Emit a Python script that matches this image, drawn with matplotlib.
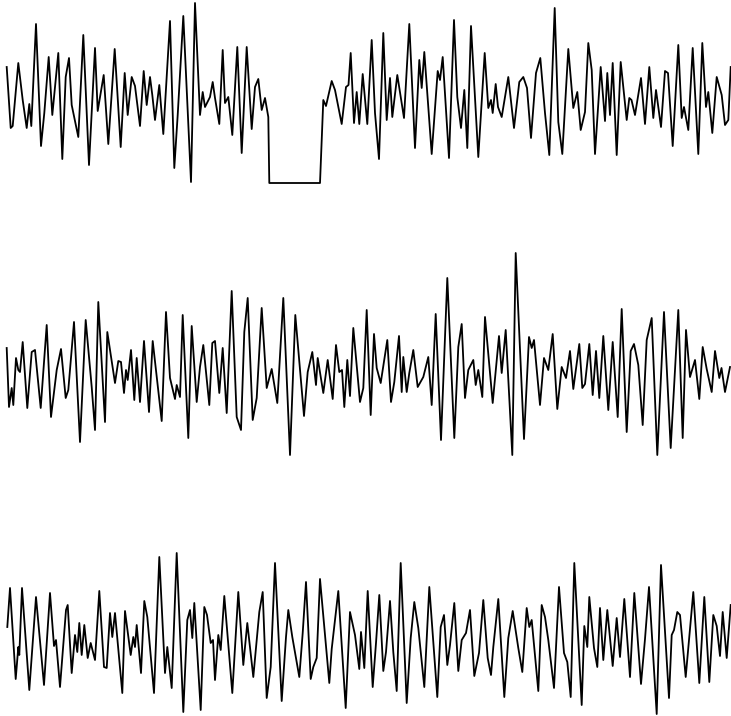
import numpy as np
import matplotlib
matplotlib.use('Agg')
import matplotlib.pyplot as plt

# trace 1 (top) - sample time and amplitude, with the flat dropout
t1 = [6.7, 10.7, 12.7, 18.3, 22.7, 26.7, 29.3, 31.3, 36, 41, 44.3, 48.7, 52.3, 58.3,
      62.3, 65.7, 69, 71.7, 78.3, 83.3, 89, 95, 97.7, 100, 103.7, 108.3, 114.7, 120.7,
      124.7, 127.7, 131.7, 135, 140, 143.7, 146.7, 150, 152.3, 155, 159.3, 163.3, 170,
      174.3, 177.7, 183.3, 191, 195, 200, 202.7, 205, 210, 212.7, 215, 219.3, 222.7,
      225, 228.3, 232.3, 237.3, 241.7, 246.7, 251.7, 255, 258.3, 261.7, 265, 268.3,
      269.3, 320, 323.3, 326, 331.7, 335, 341.7, 346, 348.5, 350.7, 354, 356.7, 359.3,
      362.7, 367.3, 371.7, 375, 379, 383.3, 386.7, 390, 392.3, 397.3, 404, 409.3, 415,
      419.3, 421.7, 424.3, 431.7, 437.7, 440, 442.7, 449, 454, 457.3, 461, 464.3, 467.3,
      471, 478.3, 484.7, 488.3, 491, 492.7, 495.7, 498, 501.7, 508.3, 514, 519.3, 523.3,
      527, 531, 536, 540.3, 545, 549.3, 554.7, 558.3, 562.3, 568.3, 573.3, 577.3, 580.7,
      585, 588.3, 591.7, 595, 600.7, 605, 607.3, 610, 612.7, 616.7, 620.7, 626.7, 629.3,
      631.5, 635, 641, 645, 649.3, 653.3, 656, 661, 665, 668, 672.7, 678.3, 681.7, 684,
      688.3, 692.7, 698.3, 702.3, 706, 708.3, 712.3, 716.7, 721.7, 725, 728.3, 730.7]
a1 = [28, -33, -31, 32, -5, -33, -9, -31, 71, -51, -18, 38, -20, 42,
      -64, 18, 37, -10, -42, 60, -70, 47, -16, -2, 20, -49, 46, -52,
      22, -20, 18, 9, -31, 24, -10, 18, 0, -25, 10, -39, 74,
      -73, -20, 79, -87, 92, -20, 3, -12, -2, 13, -3, -29, 45,
      -8, -2, -40, 48, -58, 48, -34, 8, 16, -15, -3, -22,
      -88, -88, -5, -11, 14, 5, -29, 8, 10, 42, -28, 3, -29,
      21, -29, 55, -18, -64, 62, -25, 17, -22, 20, -23, 71, -53,
      35, 7, 43, -59, 24, 15, 38, -63, 75, -2, -33, 5, -53,
      69, -62, 42, -13, -5, -18, 11, -12, -22, 18, -33, 13, 18,
      7, -43, 22, 37, -18, -60, 87, -27, -59, 46, -13, 3, -35,
      -17, 52, 25, -59, 28, -26, 22, -20, 32, -60, 33, -25, -3,
      -5, -20, 17, -29, 28, -23, 5, -32, 24, 22, -51, 50, -23, -12,
      -35, 47, -59, 52, -12, 3, -38, 18, 0, -30, -25, 28]

# trace 2 (middle)
t2 = [6.7, 9, 11.7, 13.3, 16, 18.3, 20, 22.7, 27.3, 31.7, 35, 40.7, 46.7, 51, 56.7,
      61, 65.7, 68.3, 74, 80, 85.7, 91.7, 95, 98.3, 105, 107.3, 113.3, 115, 118.3, 121,
      124, 126, 127.7, 131, 134.3, 136.7, 140, 144, 149, 152.7, 161.7, 166, 170, 175,
      176.7, 180, 182.7, 188.3, 191.7, 196.7, 200, 203.3, 209.3, 212.3, 215, 219.3,
      222.7, 226.7, 231.7, 236.7, 241, 244.3, 247.7, 252.7, 256.7, 261.7, 266.7, 271.7,
      277.3, 283.3, 290, 295.3, 304, 307.7, 312.3, 316, 317.7, 323.3, 327.7, 332.7, 336,
      339.3, 342, 344.3, 347.3, 350, 353.3, 360, 363.3, 366.7, 370.7, 374, 376.7, 380.7,
      387.3, 391, 394.3, 399, 401.7, 403.3, 406.7, 409.3, 413.3, 417.7, 423.3, 428.3,
      431.7, 435.7, 441, 447.3, 454.3, 458.3, 461.7, 465, 468.3, 473.3, 475.7, 478.3,
      482.3, 485, 492.7, 499, 501.7, 505.7, 512.3, 515.7, 524, 529, 531.7, 534, 540,
      544, 548.3, 552.7, 557.3, 561.7, 566, 570, 573.3, 579.3, 582.3, 585, 589.3, 592.7,
      596, 599.3, 603.3, 608.3, 612.7, 617.7, 621.7, 626.7, 630.7, 634, 638.3, 642.7,
      646.7, 651.7, 657.3, 664, 670.7, 678.3, 682.7, 686, 690, 695, 699.3, 702.7, 706.7,
      711.7, 715, 719.3, 721.5, 725, 730]
a2 = [22, -37, -18, -35, 12, 0, -2, 28, -38, 18, 20, -38, 45, -47, 0,
      21, -28, -20, 48, -72, 50, -17, -60, 68, -52, 38, -2, -13, 9, 8,
      -23, 0, -10, 20, -30, 12, -32, 29, -42, 29, -51, 58, -8, -29,
      -15, -27, 55, -68, 44, -32, 3, 25, -35, 27, 29, -23,
      22, -43, 79, -47, -60, 38, 72, -50, -28, 62, -18, 1,
      -33, 72, -85, 55, -46, -2, 18, -15, 12, -23, 10, -29, 25,
      -2, 0, -37, 10, -26, 42, -32, -18, 60, -45, 36, 2, -13,
      30, -32, -12, 34, -22, 13, -22, -3, 20, -17, -7, 13,
      -35, 56, -70, 92, -68, 23, 46, -28, 0, 10, -15, 0,
      -27, 53, -33, 34, -3, 40, -85, 117, -69, 33, 22, 30, -35,
      12, 0, 36, -39, 3, -8, 19, -19, 26, -18, -14, 26, -25,
      19, -28, 34, -40, 28, -47, 61, -62, 19, 26, 5, -55,
      30, 52, -85, 58, -78, 60, -68, 40, -7, 10, -29, 23, 1,
      -22, 19, -8, 2, -22, 3]

# trace 3 (bottom)
t3 = [7.3, 10, 15.7, 18.3, 19.3, 22, 25, 29.3, 36, 44, 50, 54, 56, 60, 66, 67.7,
      71.7, 75, 77.3, 79.3, 81.7, 84.3, 87.7, 90.7, 95, 99.3, 104, 106.7, 110, 112.3,
      115, 122.3, 125, 130.7, 133.3, 135, 136.7, 141, 144.3, 147.3, 154, 159.3, 165,
      167.3, 171.7, 176.7, 183.3, 187.3, 190, 192.3, 194.3, 200.7, 204.3, 207, 210.7,
      213, 215, 218.3, 220.7, 224.3, 232.3, 238.3, 243.3, 247.3, 253.3, 259.3, 262.7,
      266.7, 270.7, 275, 281.7, 286, 288.3, 292.3, 299.3, 302.7, 306, 310.7, 313.3,
      316.7, 320, 329.3, 331.7, 338.3, 345.7, 350, 355, 359.3, 361, 364.3, 367.7, 372.7,
      376, 379.3, 383.3, 386, 390, 393.3, 396.7, 400.7, 406.7, 410.7, 414.3, 418.3,
      424.3, 429.3, 437.3, 440.7, 444, 447.3, 450, 454.3, 458.3, 461.7, 466, 470, 474.3,
      479, 483.3, 487.7, 491, 493.3, 498.3, 504.3, 508.3, 512.7, 518.3, 522.3, 526.7,
      529.3, 531.7, 538.3, 541.7, 545, 548.3, 554, 559, 564, 567.3, 570.7, 574.3, 581.7,
      584.3, 587.3, 589.3, 594, 597.3, 600, 603.3, 607.3, 612.7, 616.7, 620, 624.3, 630,
      634.3, 641, 645, 649, 656.7, 661, 669, 671.7, 674, 677.3, 680, 685.7, 693.3, 699.3,
      704.3, 709.3, 713.3, 716.7, 720, 722.7, 726.7, 730.7]
a3 = [13, 52, -39, -7, -15, 52, 10, -50, 43, -45, 47, -6, 0, -47, 30, 35,
      -33, 5, -12, 17, -15, 15, -18, -3, -20, 49, -27, -28, 27, 3,
      27, -53, 29, -15, 3, -7, 15, -33, 39, 23, -53, 83, -33,
      -7, -48, 87, -72, 20, 30, 2, 37, -70, 33, 25, -3,
      0, -40, 5, -10, 44, -53, 48, -25, 17, -37, 28, 48,
      -58, -27, 77, -61, 3, 30, 3, -37, 7, 58, -39, -27,
      -18, 61, -43, -9, 49, -68, 28, 5, -29, 8, -28, 49, -47,
      -3, 45, -31, -12, 39, -12, -51, 77, -63, 2, 38, 12,
      -47, 53, -57, 13, 25, -25, -5, 37, -31, 0, 7, 30, -36,
      -13, 40, -18, -35, -7, 41, -57, 2, 29, -8, -32, 32,
      13, 20, -51, 35, 23, 0, -48, 53, -13, -22, -57, 77, -65,
      14, -7, 43, -8, -27, 32, -20, 30, -26, 22, -17, 41, -37,
      47, -44, 1, 53, -74, 75, -58, 5, 10, 28, 25, -37, 48, -43,
      43, -42, 25, 14, -16, 28, -18, 35]

W, H = 731, 716
fig = plt.figure(figsize=(W / 100, H / 100), dpi=100)
fig.patch.set_facecolor('white')

# (top px, bottom px, amplitude at top, amplitude at bottom)
panels = [
    (t1, a1, 0, 195, 95, -100),
    (t2, a2, 245, 465, 125, -95),
    (t3, a3, 540, 716, 100, -76),
]

for t, a, top, bot, ytop, ybot in panels:
    ax = fig.add_axes([0, 1 - bot / H, 1, (bot - top) / H])
    ax.plot(t, a, color='black', lw=1.3, solid_joinstyle='round')
    ax.set_xlim(0, W)
    ax.set_ylim(ybot, ytop)
    ax.axis('off')

fig.savefig('out.png', dpi=100, facecolor='white')
